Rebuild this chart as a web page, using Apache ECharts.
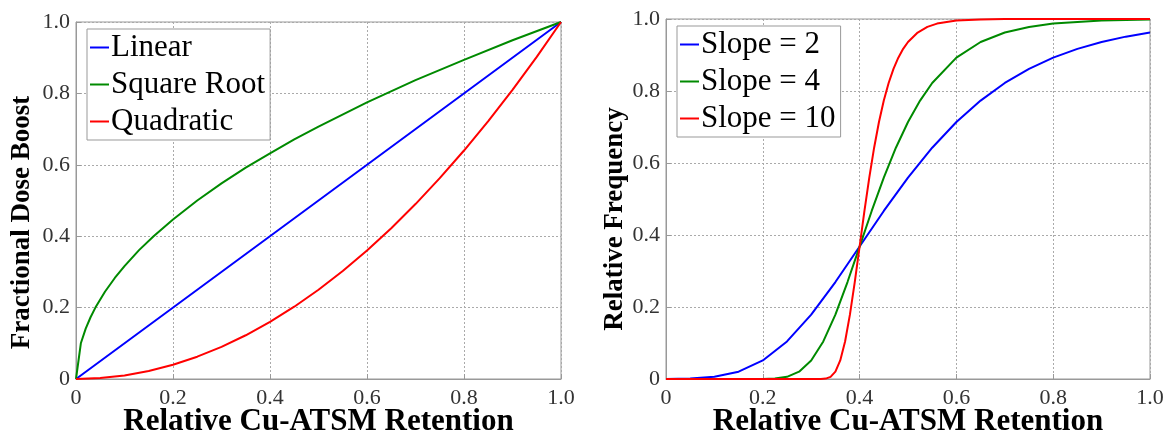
<!DOCTYPE html>
<html>
<head>
<meta charset="utf-8">
<script src="https://cdn.jsdelivr.net/npm/echarts@6/dist/echarts.min.js"></script>
<style>
html,body{margin:0;padding:0;background:#fff;}
#c{width:1169px;height:434px;}
</style>
</head>
<body>
<div id="c"></div>
<script>
// ---- Left panel data ----
var linearX = [0, 0.5, 1.0];
var linearY = [0, 0.5, 1.0];
var sqrtX = [0,0.01,0.02,0.03,0.04,0.06,0.08,0.1,0.13,0.16,0.2,0.25,0.3,0.35,0.4,0.45,0.5,0.6,0.7,0.8,0.9,1.0];
var sqrtY = [0,0.1,0.141,0.173,0.2,0.245,0.283,0.316,0.361,0.4,0.447,0.5,0.548,0.592,0.632,0.671,0.707,0.775,0.837,0.894,0.949,1.0];
var quadX = [0,0.05,0.1,0.15,0.2,0.25,0.3,0.35,0.4,0.45,0.5,0.55,0.6,0.65,0.7,0.75,0.8,0.85,0.9,0.95,1.0];
var quadY = [0,0.0025,0.01,0.0225,0.04,0.0625,0.09,0.1225,0.16,0.2025,0.25,0.3025,0.36,0.4225,0.49,0.5625,0.64,0.7225,0.81,0.9025,1.0];

// ---- Right panel data ----
var s2X = [0,0.05,0.1,0.15,0.2,0.25,0.3,0.35,0.4,0.45,0.5,0.55,0.6,0.65,0.7,0.75,0.8,0.85,0.9,0.95,1.0];
var s2Y = [0.0002,0.0012,0.006,0.0204,0.0515,0.1043,0.1787,0.2693,0.3679,0.4668,0.5596,0.6425,0.7138,0.7734,0.8223,0.8615,0.8926,0.9171,0.9361,0.951,0.9624];
var s4X = [0,0.1,0.15,0.2,0.225,0.25,0.275,0.3,0.325,0.35,0.375,0.4,0.425,0.45,0.475,0.5,0.525,0.55,0.6,0.65,0.7,0.75,0.8,0.9,1.0];
var s4Y = [0,0,0,0.0002,0.0012,0.006,0.0204,0.0515,0.1043,0.1787,0.2693,0.3679,0.4668,0.5596,0.6425,0.7138,0.7734,0.8223,0.8926,0.9361,0.9624,0.978,0.9872,0.9957,0.9985];
var s10X = [0,0.2,0.3,0.32,0.33,0.34,0.35,0.36,0.37,0.38,0.39,0.4,0.41,0.42,0.43,0.44,0.45,0.46,0.47,0.48,0.49,0.5,0.52,0.54,0.56,0.6,0.65,0.7,1.0];
var s10Y = [0,0,0,0.0002,0.0012,0.006,0.0204,0.0515,0.1043,0.1787,0.2693,0.3679,0.4668,0.5596,0.6425,0.7138,0.7734,0.8223,0.8615,0.8926,0.9171,0.9361,0.9624,0.978,0.9872,0.9957,0.9989,0.9998,1.0];

var xTicks = [0, 0.2, 0.4, 0.6, 0.8, 1.0];
var leftNames = ['Linear', 'Square Root', 'Quadratic'];
var rightNames = ['Slope = 2', 'Slope = 4', 'Slope = 10'];
var colors = ['#0000ff', '#008a00', '#ff0000'];

function pairs(xs, ys){ return xs.map(function(x,i){ return [x, ys[i]]; }); }
function fmt(v){ return v === 0 ? '0' : v.toFixed(1); }

var SERIF = '"Liberation Serif", "Times New Roman", serif';

function xAxisDef(gi){
  return {
    type:'value', gridIndex:gi, min:0, max:1, interval:0.2,
    name:'Relative Cu-ATSM Retention', nameLocation:'middle', nameGap:27, nameMoveOverlap:false,
    nameTextStyle:{fontFamily:SERIF, fontWeight:'bold', fontSize:31, color:'#000'},
    axisLine:{show:true, lineStyle:{color:'#999', width:1}},
    axisTick:{show:true, inside:true, length:5, lineStyle:{color:'#999'}},
    axisLabel:{formatter:fmt, fontFamily:SERIF, fontSize:22, color:'#333', margin:8},
    splitLine:{show:true, lineStyle:{color:'#aaa', type:[2,2], width:1}}
  };
}
function yAxisDef(gi, name, gap, shift){
  return {
    type:'value', gridIndex:gi, min:0, max:1, interval:0.2,
    name:name, nameLocation:'middle', nameGap:gap,
    nameTextStyle:{fontFamily:SERIF, fontWeight:'bold', fontSize:27, color:'#000', padding:[0, shift, 0, 0]},
    axisLine:{show:true, lineStyle:{color:'#999', width:1}},
    axisTick:{show:true, inside:true, length:5, lineStyle:{color:'#999'}},
    axisLabel:{formatter:fmt, fontFamily:SERIF, fontSize:22, color:'#333', margin:6},
    splitLine:{show:true, lineStyle:{color:'#aaa', type:[2,2], width:1}}
  };
}
function legendDef(names, left, top){
  return {
    data:names, orient:'vertical', left:left, top:top,
    icon:'rect', itemWidth:19, itemHeight:2, itemGap:6,
    padding:[3,5,3,3],
    borderColor:'#999', borderWidth:1, backgroundColor:'#fff',
    textStyle:{fontFamily:SERIF, fontSize:31, color:'#000', lineHeight:31, padding:[0,0,0,-3]}
  };
}
function lineSeries(name, xi, yi, data, ci){
  return {
    name:name, type:'line', xAxisIndex:xi, yAxisIndex:yi, data:data,
    showSymbol:false, symbol:'none', smooth:false,
    lineStyle:{color:colors[ci], width:2}, itemStyle:{color:colors[ci]}, z:3+ci
  };
}

var chart = echarts.init(document.getElementById('c'), null, {renderer:'canvas'});
chart.setOption({
  animation:false,
  backgroundColor:'#fff',
  grid:[
    {left:76, top:22, width:485, height:357, show:true, borderColor:'#999', borderWidth:1, containLabel:false, outerBoundsMode:'none'},
    {left:666, top:19, width:484, height:360, show:true, borderColor:'#999', borderWidth:1, containLabel:false, outerBoundsMode:'none'}
  ],
  xAxis:[xAxisDef(0), xAxisDef(1)],
  yAxis:[yAxisDef(0,'Fractional Dose Boost',40,44), yAxisDef(1,'Relative Frequency',27,40)],
  legend:[legendDef(leftNames, 87, 29), legendDef(rightNames, 677, 26)],
  series:[
    lineSeries('Linear',0,0,pairs(linearX,linearY),0),
    lineSeries('Square Root',0,0,pairs(sqrtX,sqrtY),1),
    lineSeries('Quadratic',0,0,pairs(quadX,quadY),2),
    lineSeries('Slope = 2',1,1,pairs(s2X,s2Y),0),
    lineSeries('Slope = 4',1,1,pairs(s4X,s4Y),1),
    lineSeries('Slope = 10',1,1,pairs(s10X,s10Y),2)
  ]
});
</script>
</body>
</html>
